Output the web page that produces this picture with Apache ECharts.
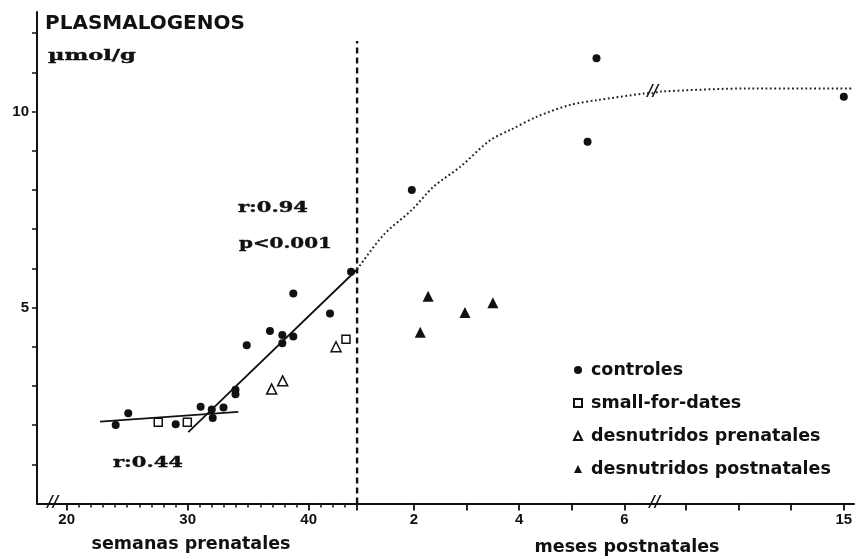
<!DOCTYPE html>
<html><head><meta charset="utf-8">
<script src="https://cdn.jsdelivr.net/npm/echarts@6/dist/echarts.min.js"></script>
<style>html,body{margin:0;padding:0;background:#fff}#c{width:857px;height:559px}</style>
</head><body><div id="c"></div>
<script>
// ---- data (prenatal in weeks, postnatal in months) ----
const controlesPreWeeks = [24.05, 25.09, 29.01, 31.07, 32.07, 31.99, 32.96, 33.95, 33.95, 34.88, 36.80, 37.82, 37.82, 38.73, 38.73, 41.76, 43.50];
const controlesPreVals  = [2.00, 2.30, 2.02, 2.47, 2.18, 2.40, 2.45, 2.90, 2.79, 4.04, 4.40, 4.30, 4.09, 4.26, 5.36, 4.85, 5.91];
const controlesPostMonths = [1.96, 5.30, 5.47, 15.0];
const controlesPostVals   = [8.00, 9.23, 11.36, 10.38];
const sfdWeeks = [27.57, 29.97, 43.08];
const sfdVals  = [2.07, 2.07, 4.19];
const desnPreWeeks = [36.94, 37.85, 42.26];
const desnPreVals  = [2.92, 3.13, 4.00];
const desnPostMonths = [2.12, 2.27, 2.97, 3.50];
const desnPostVals   = [4.37, 5.29, 4.87, 5.12];
const regLowWeeks = [22.76, 34.18];
const regLowVals  = [2.09, 2.34];
const regHighWeeks = [30.05, 44];
const regHighVals  = [1.82, 5.97];
const curveMonths = [0.92, 1.42, 1.96, 2.37, 2.88, 3.45, 3.83, 4.34, 4.97, 5.48, 6.37, 6.55, 11.5, 13.21, 15.17];
const curveVals   = [5.97, 6.85, 7.49, 8.08, 8.59, 9.27, 9.53, 9.87, 10.17, 10.29, 10.46, 10.47, 10.51, 10.59, 10.59];
const birthLineWeek = 44;
const birthLineVals = [0, 11.8];
// ticks
const weekMinorTicks = [21,22,23,24,25,26,27,28,29,31,32,33,34,35,36,37,38,39,41,42,43];
const weekMajorTicks = [20, 30, 40, 44];
const monthTicks = [2, 3, 4, 5, 6, 12, 13, 14, 15];
const weekLabels = [20, 30, 40];
const monthLabels = [2, 4, 6, 15];
const yTicks = [1,2,3,4,5,6,7,8,9,10,11,12];
const yLabels = [5, 10];

// ---- axis mapping: months after birth placed on the weeks scale, with a break ----
const WEEKS_PER_MONTH = 4.348;
const MONTH_GAP = 4.83;
const BREAK_MONTH = 6.6;
function monthPos(m) { return 40 + (m > BREAK_MONTH ? m - MONTH_GAP : m) * WEEKS_PER_MONTH; }
const X_MIN = 17.55, X_MAX = 85.06;

const zip = (xs, ys) => xs.map((x, i) => [x, ys[i]]);
const zipM = (ms, ys) => ms.map((m, i) => [monthPos(m), ys[i]]);

const labelPos = weekLabels.concat(monthLabels.map(monthPos));
const labelTxt = weekLabels.map(String).concat(monthLabels.map(String));
function fmt(v) {
  for (let i = 0; i < labelPos.length; i++) if (Math.abs(labelPos[i] - v) < 0.01) return labelTxt[i];
  return '';
}

const INK = '#111';
const chart = echarts.init(document.getElementById('c'), null, { renderer: 'canvas' });
const tickFont = { fontFamily: 'Liberation Sans', fontWeight: 'bold', fontSize: 15, color: INK };
const majorTickVals = weekMajorTicks.concat(monthTicks.map(monthPos));
const slab = (txt, x, y, sx, size) => ({ type: 'text', x: x, y: y, scaleX: sx,
  style: { text: txt, font: 'bold ' + size + 'px "DejaVu Serif"', fill: INK, stroke: INK, lineWidth: 0.4,
    textAlign: 'left', textVerticalAlign: 'middle', align: 'left', verticalAlign: 'middle' } });
const plain = (txt, x, y, font, al) => ({ type: 'text', x: x, y: y, z: 10,
  style: { text: txt, font: font, fill: INK, textAlign: al, textVerticalAlign: 'middle', align: al, verticalAlign: 'middle' } });

chart.setOption({
  animation: false,
  backgroundColor: '#fff',
  grid: { left: 37, right: 3, top: 12, bottom: 55.5, containLabel: false },
  xAxis: [
    { type: 'value', position: 'bottom', min: X_MIN, max: X_MAX,
      axisLine: { show: true, lineStyle: { color: INK, width: 2 } },
      axisTick: { show: true, customValues: weekMinorTicks, length: 4, lineStyle: { color: INK, width: 1.5 } },
      axisLabel: { show: false }, splitLine: { show: false } },
    { type: 'value', position: 'bottom', min: X_MIN, max: X_MAX,
      axisLine: { show: false },
      axisTick: { show: true, customValues: majorTickVals, length: 7, lineStyle: { color: INK, width: 1.8 } },
      axisLabel: Object.assign({ show: true, customValues: labelPos, formatter: fmt, margin: 9 }, tickFont),
      splitLine: { show: false } }
  ],
  yAxis: { type: 'value', min: 0, max: 12.54,
    axisLine: { show: true, lineStyle: { color: INK, width: 2 } },
    axisTick: { show: true, customValues: yTicks, length: 5, lineStyle: { color: INK, width: 1.5 } },
    axisLabel: Object.assign({ show: true, customValues: yLabels, margin: 8 }, tickFont),
    splitLine: { show: false } },
  legend: {
    data: ['controles', 'small-for-dates', 'desnutridos prenatales', 'desnutridos postnatales'],
    orient: 'vertical', left: 568, top: 355, itemGap: 13, itemWidth: 8, itemHeight: 8,
    textStyle: { fontFamily: 'DejaVu Sans', fontWeight: 'bold', fontSize: 17.5, lineHeight: 20, color: INK, padding: [0, 0, 0, 4] }
  },
  series: [
    { name: 'regresión 1', type: 'line', data: zip(regLowWeeks, regLowVals), symbol: 'none',
      lineStyle: { color: INK, width: 1.8 }, z: 2 },
    { name: 'regresión 2', type: 'line', data: zip(regHighWeeks, regHighVals), symbol: 'none',
      lineStyle: { color: INK, width: 1.8 }, z: 2 },
    { name: 'curva', type: 'line', data: zipM(curveMonths, curveVals), symbol: 'none', smooth: 0.3,
      lineStyle: { color: '#222', width: 2, type: [1.8, 2.6] }, z: 2 },
    { name: 'nacimiento', type: 'line', data: birthLineVals.map(v => [birthLineWeek, v]), symbol: 'none',
      lineStyle: { color: INK, width: 2.4, type: [6, 4] }, z: 1 },
    { name: 'controles', type: 'scatter', symbol: 'circle', symbolSize: 8,
      data: zip(controlesPreWeeks, controlesPreVals).concat(zipM(controlesPostMonths, controlesPostVals)),
      itemStyle: { color: INK, opacity: 1 }, z: 3 },
    { name: 'small-for-dates', type: 'scatter', symbol: 'rect', symbolSize: 8,
      data: zip(sfdWeeks, sfdVals),
      itemStyle: { color: '#fff', borderColor: INK, borderWidth: 1.5, opacity: 1 }, z: 3 },
    { name: 'desnutridos prenatales', type: 'scatter', symbol: 'triangle', symbolSize: 10,
      data: zip(desnPreWeeks, desnPreVals),
      itemStyle: { color: '#fff', borderColor: INK, borderWidth: 1.5, opacity: 1 }, z: 3 },
    { name: 'desnutridos postnatales', type: 'scatter', symbol: 'triangle', symbolSize: 11,
      data: zipM(desnPostMonths, desnPostVals),
      itemStyle: { color: INK, opacity: 1 }, z: 3 }
  ],
  graphic: [
    plain('PLASMALOGENOS', 45, 24, 'bold 20px "DejaVu Sans"', 'left'),
    slab('µmol/g', 48, 56, 1.5, 15),
    slab('r:0.94', 238, 208, 1.5, 14),
    slab('p<0.001', 239, 244, 1.42, 14),
    slab('r:0.44', 113, 463, 1.5, 14),
    plain('semanas prenatales', 191, 544, 'bold 17.5px "DejaVu Sans"', 'center'),
    plain('meses postnatales', 627, 547, 'bold 17.5px "DejaVu Sans"', 'center'),
    plain('//', 53, 503, 'italic bold 15px "DejaVu Sans"', 'center'),
    plain('//', 655, 503, 'italic bold 15px "DejaVu Sans"', 'center'),
    plain('//', 653, 92, 'italic bold 15px "DejaVu Sans"', 'center')
  ]
});
</script></body></html>
